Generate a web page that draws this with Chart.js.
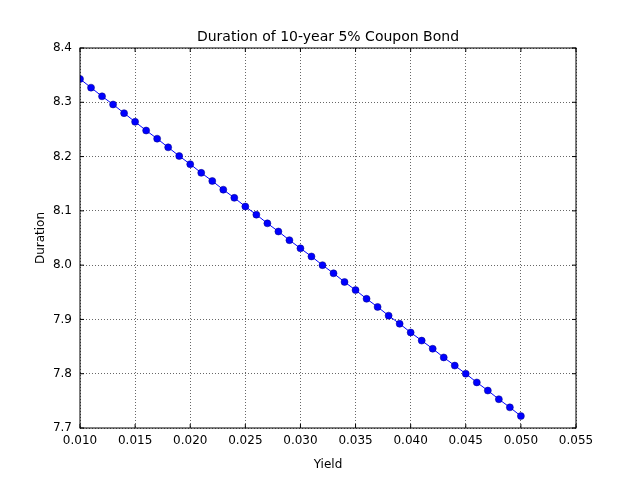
<!DOCTYPE html>
<html>
<head>
<meta charset="utf-8">
<script src="https://cdn.jsdelivr.net/npm/chart.js@4/dist/chart.umd.min.js"></script>
<style>
    html, body { margin: 0; padding: 0; background: #fff; }
    #wrap { width: 640px; height: 480px; }
</style>
</head>
<body>
<div id="wrap"><canvas id="chart"></canvas></div>
<script>
// yields and durations
const yields = [
    0.010, 0.011, 0.012, 0.013, 0.014, 0.015, 0.016, 0.017, 0.018, 0.019,
    0.020, 0.021, 0.022, 0.023, 0.024, 0.025, 0.026, 0.027, 0.028, 0.029,
    0.030, 0.031, 0.032, 0.033, 0.034, 0.035, 0.036, 0.037, 0.038, 0.039,
    0.040, 0.041, 0.042, 0.043, 0.044, 0.045, 0.046, 0.047, 0.048, 0.049, 0.050
];
const durations = [
    8.343, 8.327, 8.311, 8.296, 8.280, 8.264, 8.248, 8.233, 8.217, 8.201,
    8.186, 8.170, 8.155, 8.139, 8.124, 8.108, 8.093, 8.077, 8.062, 8.046,
    8.031, 8.016, 8.000, 7.985, 7.969, 7.954, 7.938, 7.923, 7.907, 7.892,
    7.876, 7.861, 7.846, 7.830, 7.815, 7.800, 7.784, 7.769, 7.753, 7.738, 7.722
];
const titleText = "Duration of 10-year 5% Coupon Bond";
const xLabel = "Yield";
const yLabel = "Duration";

const frame = {
    id: "frame",
    afterDraw(chart) {
        const { ctx, chartArea: a } = chart;
        ctx.save();
        ctx.strokeStyle = "#000";
        ctx.lineWidth = 1;
        ctx.strokeRect(a.left, a.top, a.right - a.left, a.bottom - a.top);
        // inward tick marks, matplotlib classic style
        ctx.beginPath();
        chart.scales.x.ticks.forEach(t => {
            const x = chart.scales.x.getPixelForValue(t.value);
            ctx.moveTo(x, a.bottom); ctx.lineTo(x, a.bottom - 4);
            ctx.moveTo(x, a.top); ctx.lineTo(x, a.top + 4);
        });
        chart.scales.y.ticks.forEach(t => {
            const y = chart.scales.y.getPixelForValue(t.value);
            ctx.moveTo(a.left, y); ctx.lineTo(a.left + 4, y);
            ctx.moveTo(a.right, y); ctx.lineTo(a.right - 4, y);
        });
        ctx.stroke();

        // title and axis labels
        ctx.fillStyle = "#000";
        ctx.textAlign = "center";
        ctx.textBaseline = "middle";
        const cx = (a.left + a.right) / 2;
        ctx.font = "14px 'DejaVu Sans'";
        ctx.fillText(titleText, cx, 37);
        ctx.font = "12px 'DejaVu Sans'";
        ctx.fillText(xLabel, cx, 465);
        ctx.translate(41, (a.top + a.bottom) / 2);
        ctx.rotate(-Math.PI / 2);
        ctx.fillText(yLabel, 0, 0);
        ctx.restore();
    }
};

const font = { family: "DejaVu Sans", size: 12 };

new Chart(document.getElementById("chart"), {
    type: "line",
    data: {
        datasets: [{
            data: yields.map((x, i) => ({ x, y: durations[i] })),
            borderColor: "#0000ff",
            backgroundColor: "#0000ff",
            pointBackgroundColor: "#0000ff",
            pointBorderColor: "#000080",
            pointBorderWidth: 0.5,
            pointRadius: 3.5,
            borderWidth: 1,
        }],
    },
    options: {
        responsive: true,
        maintainAspectRatio: false,
        animation: false,
        layout: { padding: { top: 48, right: 64, left: 0, bottom: 0 } },
        plugins: {
            legend: { display: false },
            tooltip: { enabled: false },
        },
        scales: {
            x: {
                type: "linear",
                min: 0.010,
                max: 0.055,
                afterFit: s => { s.height = 52; },
                afterBuildTicks: s => {
                    s.ticks = [];
                    for (let i = 0; i <= 9; i++) s.ticks.push({ value: +(0.010 + i * 0.005).toFixed(3) });
                },
                ticks: { color: "#000", font, padding: 6, maxRotation: 0, callback: v => v.toFixed(3) },
                grid: { color: "#000", lineWidth: 0.6, drawTicks: false },
                border: { display: false, dash: [1, 2] },
            },
            y: {
                min: 7.7,
                max: 8.4,
                afterFit: s => { s.width = 80; },
                afterBuildTicks: s => {
                    s.ticks = [];
                    for (let i = 0; i <= 7; i++) s.ticks.push({ value: +(7.7 + i * 0.1).toFixed(1) });
                },
                ticks: { color: "#000", font, padding: 8, callback: v => v.toFixed(1) },
                grid: { color: "#000", lineWidth: 0.6, drawTicks: false },
                border: { display: false, dash: [1, 2] },
            },
        },
    },
    plugins: [frame],
});
</script>
</body>
</html>
